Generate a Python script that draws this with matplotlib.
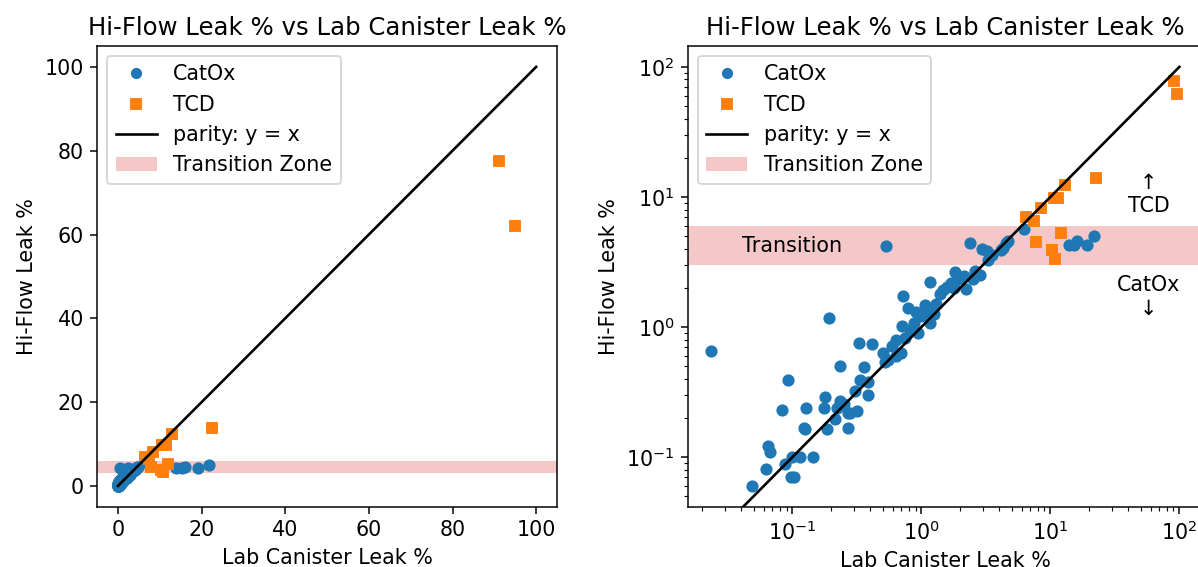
import matplotlib
matplotlib.use("Agg")
import matplotlib.pyplot as plt

plt.rcParams['font.size'] = 11
plt.rcParams['axes.titlesize'] = 13

# CatOx readings (lab canister %, hi-flow %)
catox_lab = [0.0234, 0.049, 0.062, 0.065, 0.067, 0.083, 0.0875, 0.093, 0.097, 0.103,
             0.10, 0.114, 0.122, 0.126, 0.128, 0.145, 0.175, 0.187, 0.193, 0.18,
             0.213, 0.223, 0.235, 0.235, 0.25, 0.268, 0.268, 0.306, 0.316, 0.327,
             0.337, 0.36, 0.385, 0.385, 0.417, 0.50, 0.518, 0.535, 0.59, 0.63,
             0.63, 0.696, 0.705, 0.72, 0.79, 0.877, 0.936, 1.0, 1.07, 1.14,
             1.16, 1.16, 1.26, 1.39, 1.48, 1.59, 1.69, 1.83, 1.93, 2.13,
             2.2, 2.39, 2.51, 2.87, 2.96, 3.23, 3.27, 4.12, 4.26, 4.54,
             4.7, 6.2, 13.9, 15.3, 16.1, 19.1, 21.8, 0.55, 0.75, 1.3,
             1.8, 2.6, 3.5, 0.28, 0.9, 0.82]
catox_hf = [0.65, 0.060, 0.081, 0.122, 0.110, 0.232, 0.088, 0.39, 0.070, 0.070,
            0.10, 0.10, 0.168, 0.163, 0.24, 0.10, 0.24, 0.163, 1.17, 0.29,
            0.198, 0.24, 0.27, 0.50, 0.256, 0.218, 0.168, 0.32, 0.225, 0.76,
            0.39, 0.49, 0.378, 0.30, 0.737, 0.635, 0.54, 4.2, 0.72, 0.797,
            0.595, 0.635, 1.01, 1.74, 1.40, 1.07, 0.907, 1.21, 1.47, 1.30,
            2.21, 1.07, 1.25, 1.79, 1.91, 2.04, 2.18, 2.64, 2.32, 2.48,
            1.97, 4.4, 2.32, 2.51, 3.96, 3.86, 3.25, 3.9, 4.04, 4.44,
            4.6, 5.69, 4.25, 4.3, 4.6, 4.25, 5.05, 0.56, 0.82, 1.5,
            2.0, 2.7, 3.6, 0.22, 1.3, 0.95]

# TCD readings
tcd_lab = [91, 95, 22.5, 12.9, 11.4, 10.6, 8.5, 6.45, 7.45, 7.8, 12.0, 10.2, 10.8]
tcd_hf = [77.5, 62, 13.9, 12.3, 9.87, 9.87, 8.2, 7.0, 6.5, 4.5, 5.3, 3.9, 3.36]

parity = [0, 100]
zone = (3, 6)

fig = plt.figure(figsize=(1198 / 135, 567 / 135), dpi=135)
ax1 = fig.add_axes([0.081, 0.106, 0.384, 0.813])
ax2 = fig.add_axes([0.574, 0.106, 0.430, 0.813])

for ax in (ax1, ax2):
    ax.plot(catox_lab, catox_hf, 'o', ms=5.5, color='tab:blue', label='CatOx')
    ax.plot(tcd_lab, tcd_hf, 's', ms=5.5, color='tab:orange', label='TCD')
    ax.plot(parity, parity, color='black', lw=1.4, label='parity: y = x')
    ax.axhspan(zone[0], zone[1], color='tab:red', alpha=0.25, lw=0,
               label='Transition Zone')
    ax.set_title('Hi-Flow Leak % vs Lab Canister Leak %')
    ax.set_xlabel('Lab Canister Leak %')
    ax.set_ylabel('Hi-Flow Leak %')
    ax.legend(loc='upper left', markerscale=0.9)

ax2.set_xscale('log')
ax2.set_yscale('log')
ax2.text(0.041, 4.2, 'Transition', ha='left', va='center')
ax2.text(58, 10.5, '↑\nTCD', ha='center', va='center', multialignment='center')
ax2.text(58, 1.7, 'CatOx\n↓', ha='center', va='center', multialignment='center')

plt.savefig("out.png", dpi=135)
